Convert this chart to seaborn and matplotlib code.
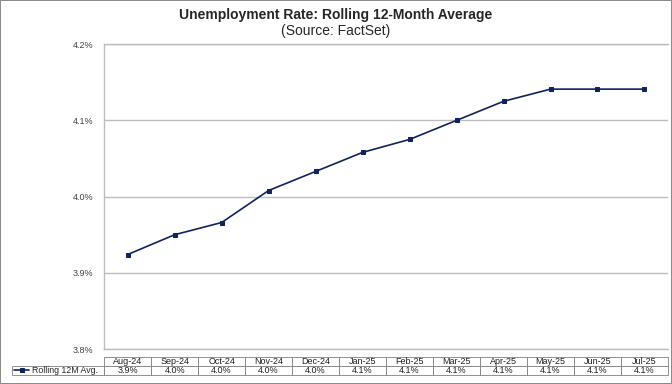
import matplotlib
matplotlib.use("Agg")
import matplotlib.pyplot as plt
import numpy as np
import pandas as pd
import seaborn as sns

# values
months = ['Aug-24', 'Sep-24', 'Oct-24', 'Nov-24', 'Dec-24', 'Jan-25',
          'Feb-25', 'Mar-25', 'Apr-25', 'May-25', 'Jun-25', 'Jul-25']
rolling_avg = [3.924, 3.950, 3.966, 4.008, 4.033, 4.058,
               4.075, 4.100, 4.125, 4.141, 4.141, 4.141]
table_labels = ['3.9%', '4.0%', '4.0%', '4.0%', '4.0%', '4.1%',
                '4.1%', '4.1%', '4.1%', '4.1%', '4.1%', '4.1%']
y_ticks = [3.8, 3.9, 4.0, 4.1, 4.2]
series_name = 'Rolling 12M Avg.'

df = pd.DataFrame({'idx': np.arange(len(months)), 'rate': rolling_avg})

sns.set_style('white')
plt.rcParams['font.family'] = ['Liberation Sans', 'DejaVu Sans']

navy = '#10235f'
grid_c = '#bdbdbd'

fig = plt.figure(figsize=(6.72, 3.84), dpi=100)
fig.patch.set_edgecolor('#8c8c8c')
fig.patch.set_linewidth(1.2)
ax = fig.add_axes([0.155, 0.091, 0.839, 0.794])

sns.lineplot(data=df, x='idx', y='rate', ax=ax, color=navy, linewidth=1.2,
             marker='s', markersize=3.2, markeredgecolor=navy, label=series_name)

ax.set_xlim(-0.5, len(months) - 0.5)
ax.set_ylim(y_ticks[0], y_ticks[-1])
ax.set_yticks(y_ticks)
ax.set_yticklabels([f'{t:.1f}%' for t in y_ticks], fontsize=6.5, color='#404040')
ax.tick_params(axis='y', length=0, pad=8)
ax.set_xticks([])
ax.set_xlabel('')
ax.set_ylabel('')
ax.yaxis.grid(True, color=grid_c, linewidth=1)
for side in ['left', 'bottom', 'top']:
    ax.spines[side].set_color(grid_c)
    ax.spines[side].set_linewidth(1)
ax.spines['right'].set_visible(False)

# data table under the plot
label_w = 0.163
cell_text = [[''] + months, [''] + table_labels]
tbl = ax.table(cellText=cell_text, cellLoc='center',
               colWidths=[label_w] + [1.0 / len(months)] * len(months),
               bbox=[-label_w, -0.086, 1 + label_w, 0.060])
tbl.auto_set_font_size(False)
tbl.set_fontsize(6.5)
for (r, c), cell in tbl.get_celld().items():
    cell.set_edgecolor('#7f7f7f')
    cell.set_linewidth(0.6)
    cell.get_text().set_color('#202020')
    if r == 0 and c == 0:
        cell.visible_edges = ''

leg = ax.legend(loc='center left', bbox_to_anchor=(-label_w, -0.071),
                frameon=False, fontsize=6.3, handlelength=1.7,
                handletextpad=0.25, borderpad=0.1, borderaxespad=0.15)

fig.text(0.5, 0.962, 'Unemployment Rate: Rolling 12-Month Average',
         ha='center', va='center', fontsize=10, fontweight='bold')
fig.text(0.5, 0.918, '(Source: FactSet)', ha='center', va='center', fontsize=10)

fig.savefig('out.png', dpi=100, edgecolor=fig.get_edgecolor())
